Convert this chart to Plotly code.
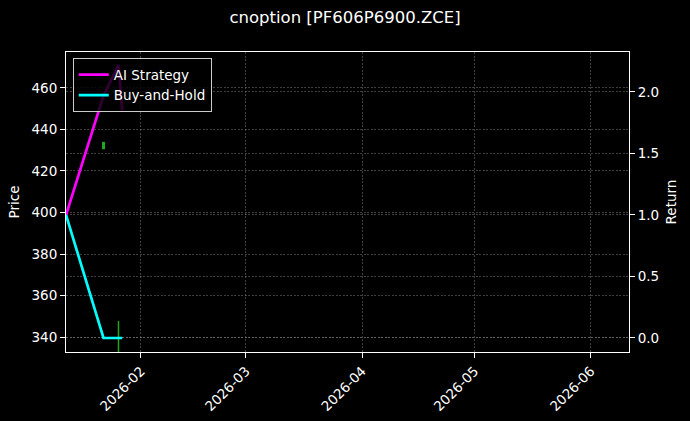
"""Recreate the cnoption backtest chart (price candles + strategy returns)."""

import plotly.graph_objects as go

# --- data ---
dates = ["2026-01-12", "2026-01-22", "2026-01-26", "2026-01-27"]
ai_strategy = [1.0, 1.97, 2.22, 1.85]
buy_and_hold = [1.0, 0.0, 0.0, 0.0]

candle_dates = ["2026-01-22", "2026-01-26"]
candle_open = [430.5, 326.0]
candle_close = [434.0, 330.0]
candle_high = [434.0, 347.7]
candle_low = [430.5, 318.0]

x_ticks = ["2026-02-01", "2026-03-01", "2026-04-01", "2026-05-01", "2026-06-01"]
price_ticks = [340, 360, 380, 400, 420, 440, 460]
return_ticks = [0.0, 0.5, 1.0, 1.5, 2.0]

FONT = "DejaVu Sans"
GRID = "rgba(140,140,140,0.45)"

# wicks and bodies as segments separated by None
wick_x, wick_y, body_x, body_y = [], [], [], []
for d, o, c, h, l in zip(candle_dates, candle_open, candle_close, candle_high, candle_low):
    wick_x += [d, d, None]
    wick_y += [l, h, None]
    body_x += [d, d, None]
    body_y += [min(o, c), max(o, c), None]

fig = go.Figure()
fig.add_trace(go.Scatter(
    x=wick_x, y=wick_y, mode="lines",
    line=dict(color="#1fa81f", width=1.5),
    showlegend=False, hoverinfo="skip", yaxis="y",
))
fig.add_trace(go.Scatter(
    x=body_x, y=body_y, mode="lines",
    line=dict(color="#1fa81f", width=3),
    showlegend=False, hoverinfo="skip", yaxis="y",
))
fig.add_trace(go.Scatter(
    x=dates, y=ai_strategy, mode="lines", name="AI Strategy",
    line=dict(color="#ff00ff", width=2.7), yaxis="y2",
))
fig.add_trace(go.Scatter(
    x=dates, y=buy_and_hold, mode="lines", name="Buy-and-Hold",
    line=dict(color="#00ffff", width=2.7), yaxis="y2",
))

axis_common = dict(
    showline=True, linecolor="white", linewidth=1,
    ticks="outside", ticklen=5, tickcolor="white", tickwidth=1,
    showgrid=True, gridcolor=GRID, griddash="2px,1.5px", gridwidth=0.5,
    zeroline=False, automargin=False,
    tickfont=dict(color="white", size=13.5, family=FONT),
)

fig.update_layout(
    width=690, height=421,
    paper_bgcolor="black", plot_bgcolor="black",
    margin=dict(l=66, r=61, t=52, b=69),
    font=dict(family=FONT, color="white", size=13.5),
    title=dict(
        text="cnoption [PF606P6900.ZCE]",
        x=0.5, xanchor="center", y=0.96, yanchor="middle",
        font=dict(size=16.5, color="white", family=FONT),
    ),
    xaxis=dict(
        **axis_common, mirror=True,
        range=["2026-01-12", "2026-06-11 04:00"],
        tickvals=x_ticks, tickformat="%Y-%m", tickangle=-45,
    ),
    yaxis=dict(
        **axis_common, mirror=True,
        range=[332.8, 477.3], tickvals=price_ticks,
        title=dict(text="Price", font=dict(size=13.5, color="white"), standoff=8),
    ),
    yaxis2=dict(
        **axis_common, overlaying="y", side="right",
        range=[-0.114, 2.325], tickvals=return_ticks, tickformat=".1f",
        title=dict(text="Return", font=dict(size=13.5, color="white"), standoff=8),
    ),
    legend=dict(
        x=0.012, y=0.979, xanchor="left", yanchor="top",
        bgcolor="rgba(0,0,0,0.8)", bordercolor="#cccccc", borderwidth=1,
        font=dict(size=13.5, color="white", family=FONT),
        tracegroupgap=0, itemwidth=30,
    ),
    showlegend=True,
    hovermode=False,
)

fig.write_html(
    "out.html",
    config={"displayModeBar": False},
    post_script="document.body.style.margin='0';document.body.style.background='black';",
)
